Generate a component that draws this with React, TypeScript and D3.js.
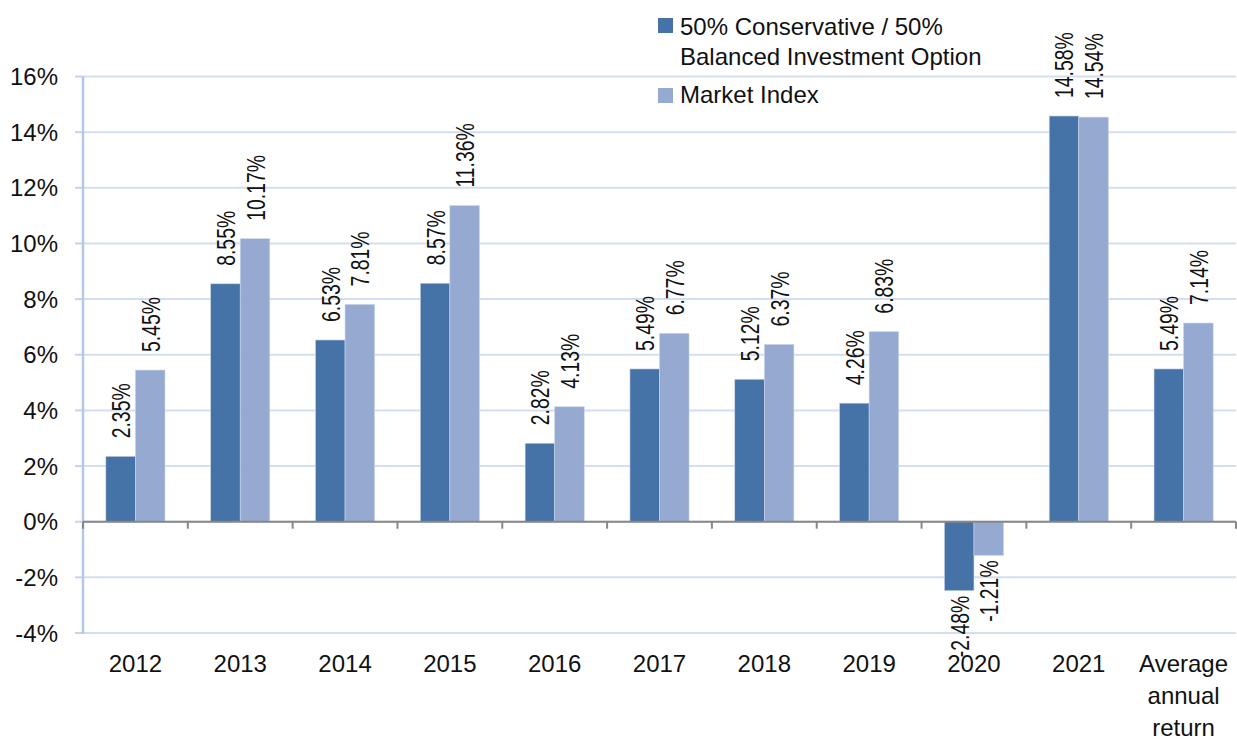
import React from 'react';
import * as d3 from 'd3';

const categories = ['2012', '2013', '2014', '2015', '2016', '2017', '2018', '2019', '2020', '2021', 'Average annual return'];
const conservative = [2.35, 8.55, 6.53, 8.57, 2.82, 5.49, 5.12, 4.26, -2.48, 14.58, 5.49];
const marketIndex = [5.45, 10.17, 7.81, 11.36, 4.13, 6.77, 6.37, 6.83, -1.21, 14.54, 7.14];
const seriesNames = ['50% Conservative / 50%|Balanced Investment Option', 'Market Index'];
const yTicks = [-4, -2, 0, 2, 4, 6, 8, 10, 12, 14, 16];

const width = 1237;
const height = 740;
const left = 83;
const right = 1236;
const colors = ['#4573A7', '#95A9D1'];
const font = "'Liberation Sans', Arial, sans-serif";

export default function App() {
  const x = d3.scaleBand<string>().domain(categories).range([left, right]);
  const bw = x.bandwidth();
  const inner = d3.scaleBand<number>().domain([0, 1]).range([bw * 0.218, bw * 0.782]);
  const y = d3.scaleLinear().domain([-4, 16]).range([633, 76.5]);
  const series = [conservative, marketIndex];

  return (
    <svg width={width} height={height} style={{ position: 'absolute', left: 0, top: 0 }}>
      <rect width={width} height={height} fill="#fff" />
      {/* grid */}
      {yTicks.map(t => (
        <g key={t}>
          <line x1={left} x2={right} y1={y(t)} y2={y(t)} stroke="#D3DEF1" strokeWidth={2} />
          <line x1={left - 8} x2={left} y1={y(t)} y2={y(t)} stroke="#C5D3EE" strokeWidth={2} />
          <text x={58} y={y(t) + 8.5} textAnchor="end" fontFamily={font} fontSize={24} fill="#111">{t}%</text>
        </g>
      ))}
      <line x1={left} x2={left} y1={y(16)} y2={y(-4) + 1} stroke="#B4C6EA" strokeWidth={2.5} />

      {/* bars */}
      {series.map((vals, si) =>
        vals.map((v, i) => {
          const bx = (x(categories[i]) as number) + (inner(si) as number);
          const y0 = y(Math.max(0, v));
          const h = Math.abs(y(v) - y(0));
          return (
            <rect key={`${si}-${i}`} x={bx} y={y0} width={inner.bandwidth()} height={h}
              fill={colors[si]} stroke="#C9D5EC" strokeWidth={0.6} />
          );
        })
      )}

      {/* zero axis */}
      <line x1={left} x2={right} y1={y(0)} y2={y(0)} stroke="#878787" strokeWidth={2} />
      {d3.range(categories.length + 1).map(k => {
        const tx = left + k * bw;
        return <line key={k} x1={tx} x2={tx} y1={y(0)} y2={y(0) + 7} stroke="#878787" strokeWidth={2} />;
      })}

      {/* data labels, rotated and a little condensed */}
      {series.map((vals, si) =>
        vals.map((v, i) => {
          const cx = (x(categories[i]) as number) + (inner(si) as number) + inner.bandwidth() / 2 + 9.5;
          const pos = v >= 0;
          const ty = pos ? y(v) - 18 : y(v) + 5;
          return (
            <text key={`l${si}-${i}`} transform={`translate(${cx},${ty}) rotate(-90) scale(0.97,1.3)`}
              textAnchor={pos ? 'start' : 'end'} fontFamily={font} fontSize={20} fill="#111">
              {v.toFixed(2)}%
            </text>
          );
        })
      )}

      {/* category labels */}
      {categories.map(c => {
        const words = c === 'Average annual return' ? c.split(' ') : [c];
        return (
          <text key={c} x={(x(c) as number) + bw / 2} y={672} textAnchor="middle" fontFamily={font} fontSize={24} fill="#111">
            {words.map((w, k) => (
              <tspan key={k} x={(x(c) as number) + bw / 2} dy={k === 0 ? 0 : 32}>{w}</tspan>
            ))}
          </text>
        );
      })}

      {/* legend */}
      <rect x={658} y={18} width={15} height={15} fill={colors[0]} />
      <text x={680} y={35} fontFamily={font} fontSize={24} fill="#111">
        {seriesNames[0].split('|').map((s, k) => (
          <tspan key={k} x={680} dy={k === 0 ? 0 : 30}>{s}</tspan>
        ))}
      </text>
      <rect x={658} y={88} width={15} height={15} fill={colors[1]} />
      <text x={680} y={103} fontFamily={font} fontSize={24} fill="#111">{seriesNames[1]}</text>
    </svg>
  );
}
